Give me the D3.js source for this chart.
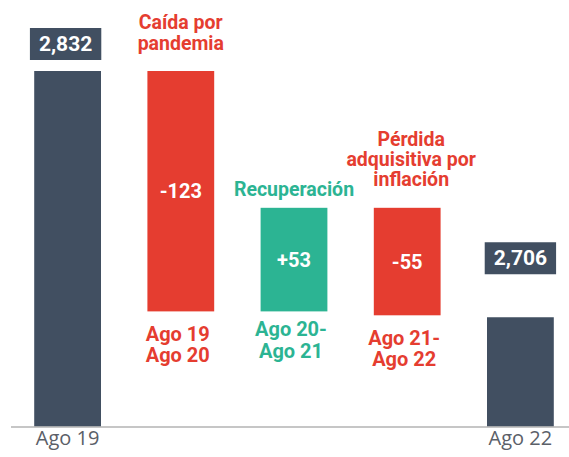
<!DOCTYPE html>
<html>
<head>
<meta charset="utf-8">
<script src="https://cdn.jsdelivr.net/npm/d3@7"></script>
<style>
  html, body { margin: 0; padding: 0; background: #fff; }
  svg { display: block; }
</style>
</head>
<body>
<svg id="chart" width="569" height="457"></svg>
<script>
// categories and values
var steps = ["ago19", "caida", "recup", "perdida", "ago22"];
var kinds = ["total", "delta", "delta", "delta", "total"];
var values = [2832, -123, 53, -55, 2706];
var valueLabels = ["2,832", "-123", "+53", "-55", "2,706"];
var topLabels = [[], ["Caída por", "pandemia"], ["Recuperación"], ["Pérdida", "adquisitiva por", "inflación"], []];
var bottomLabels = [[], ["Ago 19", "Ago 20"], ["Ago 20-", "Ago 21"], ["Ago 21-", "Ago 22"], []];
var axisLabels = ["Ago 19", "", "", "", "Ago 22"];
var baseValue = 2650;

var dark = "#414f61", red = "#e53d30", green = "#2cb493";

var svg = d3.select("#chart");
var bottom = 426.7;

var x = d3.scaleBand().domain(steps).range([11, 577]).paddingInner(0.41).paddingOuter(0.205);
var y = d3.scaleLinear().domain([baseValue, 2832]).range([bottom, 71]);

// build waterfall
var run = 0;
var bars = steps.map(function (s, i) {
  var d = { key: s, kind: kinds[i], value: values[i], i: i };
  if (kinds[i] === "total") {
    d.y0 = baseValue; d.y1 = values[i]; run = values[i];
  } else {
    d.y0 = run; d.y1 = run + values[i]; run = d.y1;
  }
  d.color = kinds[i] === "total" ? dark : (values[i] < 0 ? red : green);
  return d;
});

svg.selectAll("rect.bar").data(bars).enter().append("rect")
  .attr("class", "bar")
  .attr("x", function (d) { return x(d.key); })
  .attr("y", function (d) { return y(Math.max(d.y0, d.y1)); })
  .attr("width", x.bandwidth())
  .attr("height", function (d) { return Math.abs(y(d.y0) - y(d.y1)); })
  .style("fill", function (d) { return d.color; });

// axis line
svg.append("line")
  .attr("x1", 11).attr("x2", 569)
  .attr("y1", bottom + 0.3).attr("y2", bottom + 0.3)
  .style("stroke", "#b3b3b3").style("stroke-width", 1.6);

// axis labels
svg.selectAll("text.axis").data(bars).enter().append("text")
  .attr("class", "axis")
  .attr("x", function (d) { return x(d.key) + x.bandwidth() / 2; })
  .attr("y", 445)
  .attr("text-anchor", "middle")
  .style("font-family", "'Open Sans', sans-serif")
  .style("font-size", "20px")
  .style("fill", "#5b6068")
  .text(function (d) { return axisLabels[d.i]; });

// value labels inside delta bars
svg.selectAll("text.val").data(bars.filter(function (d) { return d.kind === "delta"; })).enter().append("text")
  .attr("class", "val")
  .attr("x", function (d) { return x(d.key) + x.bandwidth() / 2; })
  .attr("y", function (d) { return (y(d.y0) + y(d.y1)) / 2 + 7; })
  .attr("text-anchor", "middle")
  .style("font-family", "Roboto, sans-serif")
  .style("font-weight", "bold")
  .style("font-size", "20px")
  .style("fill", "#fff")
  .text(function (d) { return valueLabels[d.i]; });

// boxed labels above totals
bars.filter(function (d) { return d.kind === "total"; }).forEach(function (d) {
  var cx = x(d.key) + x.bandwidth() / 2 - (d.i === 0 ? 2 : 0);
  var gap = d.i === 0 ? 11 : 43;
  var boxBottom = y(d.y1) - gap;
  var g = svg.append("g");
  var t = g.append("text")
    .attr("x", cx)
    .attr("y", boxBottom - 9.5)
    .attr("text-anchor", "middle")
    .style("font-family", "Roboto, sans-serif")
    .style("font-weight", "bold")
    .style("font-size", "21px")
    .style("fill", "#fff")
    .text(valueLabels[d.i]);
  var w = t.node().getComputedTextLength() + 18;
  g.insert("rect", "text")
    .attr("x", cx - w / 2).attr("y", boxBottom - 32)
    .attr("width", w).attr("height", 32)
    .style("fill", dark);
});

// titles above delta bars
bars.forEach(function (d) {
  var lines = topLabels[d.i];
  if (!lines.length) return;
  var lastBase = y(Math.max(d.y0, d.y1)) - (lines.length === 1 ? 11.5 : 21.5);
  var t = svg.append("text")
    .attr("text-anchor", "middle")
    .style("font-family", "Roboto, sans-serif")
    .style("font-weight", "bold")
    .style("font-size", "19.5px")
    .style("fill", d.color);
  lines.forEach(function (l, j) {
    t.append("tspan")
      .attr("x", x(d.key) + x.bandwidth() / 2 + (d.i === 3 ? 4 : 0))
      .attr("y", lastBase - (lines.length - 1 - j) * 20.2)
      .text(l);
  });
});

// period labels below delta bars
bars.forEach(function (d) {
  var lines = bottomLabels[d.i];
  if (!lines.length) return;
  var firstBase = y(Math.min(d.y0, d.y1)) + (d.y1 > d.y0 ? 25 : 29.5);
  var t = svg.append("text")
    .attr("text-anchor", "middle")
    .style("font-family", "Roboto, sans-serif")
    .style("font-weight", "bold")
    .style("font-size", "20px")
    .style("fill", d.color);
  lines.forEach(function (l, j) {
    t.append("tspan")
      .attr("x", x(d.key) + x.bandwidth() / 2 - 3)
      .attr("y", firstBase + j * 21.5)
      .text(l);
  });
});
</script>
</body>
</html>
